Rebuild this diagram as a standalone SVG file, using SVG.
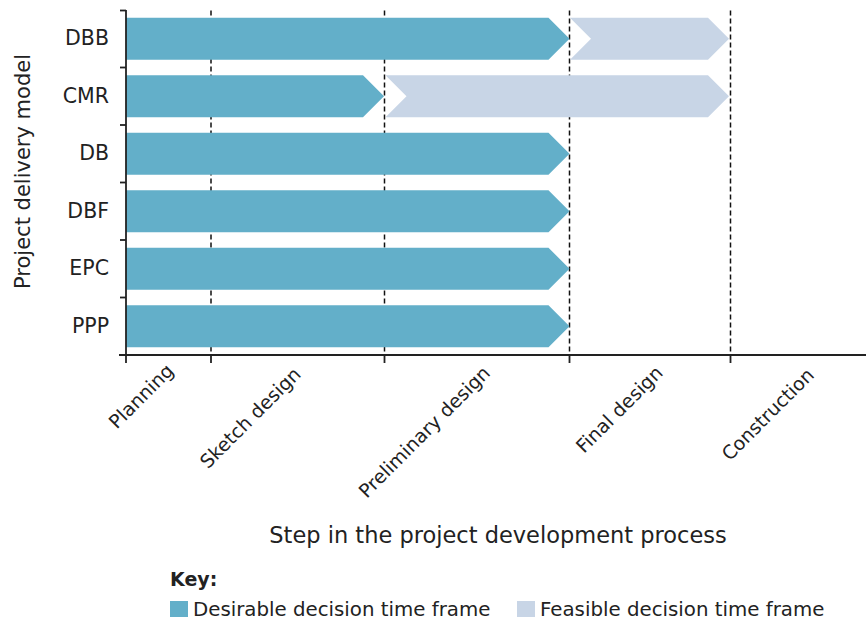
<svg xmlns="http://www.w3.org/2000/svg" width="866" height="621" viewBox="0 0 866 621">
  <style>
    text { font-family: "DejaVu Sans", "Liberation Sans", sans-serif; fill: #222222; }
    .des { fill: #63afc9; }
    .fea { fill: #c8d5e6; }
    .grid { stroke: #111111; stroke-width: 1.5; stroke-dasharray: 5 3; fill: none; }
    .axis { stroke: #222222; stroke-width: 1.8; fill: none; }
    .row { font-size: 20.5px; text-anchor: end; }
    .step { font-size: 19px; text-anchor: middle; }
    .title { font-size: 22px; text-anchor: middle; }
    .key { font-size: 19.8px; }
  </style>
  <rect width="866" height="621" fill="#ffffff"/>

  <g id="connectors">
    <line class="grid" x1="211" y1="10.5" x2="211" y2="355"/>
    <line class="grid" x1="384.5" y1="10.5" x2="384.5" y2="355"/>
    <line class="grid" x1="569.5" y1="10.5" x2="569.5" y2="355"/>
    <line class="grid" x1="730.5" y1="10.5" x2="730.5" y2="355"/>
  </g>

  <g id="row-DBB">
    <polygon class="des" points="126,17.75 548.5,17.75 569.5,38.75 548.5,59.75 126,59.75"/>
    <polygon class="fea" points="570,17.75 708,17.75 729,38.75 708,59.75 570,59.75 591,38.75"/>
    <text class="row" x="109" y="45.3">DBB</text>
  </g>
  <g id="row-CMR">
    <polygon class="des" points="126,75.25 363,75.25 384,96.25 363,117.25 126,117.25"/>
    <polygon class="fea" points="385.5,75.25 708,75.25 729,96.25 708,117.25 385.5,117.25 406.5,96.25"/>
    <text class="row" x="109" y="102.8">CMR</text>
  </g>
  <g id="row-DB">
    <polygon class="des" points="126,132.75 548.5,132.75 569.5,153.75 548.5,174.75 126,174.75"/>
    <text class="row" x="109" y="160.3">DB</text>
  </g>
  <g id="row-DBF">
    <polygon class="des" points="126,190.25 548.5,190.25 569.5,211.25 548.5,232.25 126,232.25"/>
    <text class="row" x="109" y="217.8">DBF</text>
  </g>
  <g id="row-EPC">
    <polygon class="des" points="126,247.75 548.5,247.75 569.5,268.75 548.5,289.75 126,289.75"/>
    <text class="row" x="109" y="275.3">EPC</text>
  </g>
  <g id="row-PPP">
    <polygon class="des" points="126,305.25 548.5,305.25 569.5,326.25 548.5,347.25 126,347.25"/>
    <text class="row" x="109" y="332.8">PPP</text>
  </g>

  <g id="axes">
    <line class="axis" x1="126" y1="10" x2="126" y2="355"/>
    <line class="axis" x1="119" y1="355" x2="866" y2="355"/>
    <line class="axis" x1="120" y1="10.5" x2="126" y2="10.5"/>
    <line class="axis" x1="120" y1="67.5" x2="126" y2="67.5"/>
    <line class="axis" x1="120" y1="125" x2="126" y2="125"/>
    <line class="axis" x1="120" y1="182.5" x2="126" y2="182.5"/>
    <line class="axis" x1="120" y1="240" x2="126" y2="240"/>
    <line class="axis" x1="120" y1="297.5" x2="126" y2="297.5"/>
    <line class="axis" x1="126" y1="355" x2="126" y2="363"/>
    <line class="axis" x1="211" y1="355" x2="211" y2="363"/>
    <line class="axis" x1="384.5" y1="355" x2="384.5" y2="363"/>
    <line class="axis" x1="569.5" y1="355" x2="569.5" y2="363"/>
    <line class="axis" x1="730.5" y1="355" x2="730.5" y2="363"/>
  </g>

  <g id="step-labels">
    <text class="step" transform="translate(145.8,400.8) rotate(-45)">Planning</text>
    <text class="step" transform="translate(255,422.5) rotate(-45)">Sketch design</text>
    <text class="step" transform="translate(429,436.6) rotate(-45)">Preliminary design</text>
    <text class="step" transform="translate(624,414) rotate(-45)">Final design</text>
    <text class="step" transform="translate(772.4,419) rotate(-45)">Construction</text>
  </g>

  <g id="axis-titles">
    <text class="title" transform="translate(30,171.5) rotate(-90)" style="font-size:21px">Project delivery model</text>
    <text class="title" x="498" y="543.3" style="font-size:22.5px">Step in the project development process</text>
  </g>

  <g id="legend">
    <text x="170" y="586" style="font-size:19px;font-weight:bold">Key:</text>
    <rect class="des" x="170" y="601" width="18" height="16"/>
    <text class="key" x="193" y="616">Desirable decision time frame</text>
    <rect class="fea" x="517" y="601" width="18" height="16"/>
    <text class="key" x="540" y="616">Feasible decision time frame</text>
  </g>
</svg>
